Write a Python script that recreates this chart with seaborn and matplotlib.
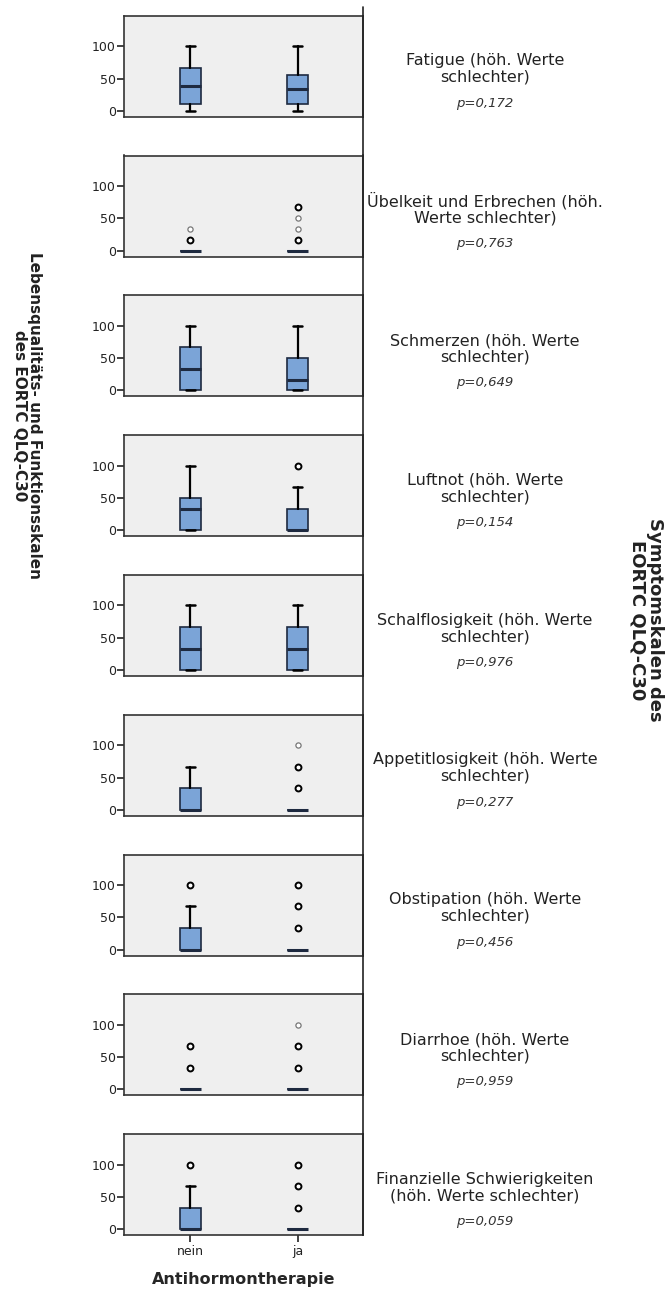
import matplotlib
matplotlib.use("Agg")
import matplotlib.pyplot as plt
from matplotlib.lines import Line2D
import seaborn as sns

# scale names and p values (nein vs ja)
labels = ['Fatigue (höh. Werte\nschlechter)',
          'Übelkeit und Erbrechen (höh.\nWerte schlechter)',
          'Schmerzen (höh. Werte\nschlechter)',
          'Luftnot (höh. Werte\nschlechter)',
          'Schalflosigkeit (höh. Werte\nschlechter)',
          'Appetitlosigkeit (höh. Werte\nschlechter)',
          'Obstipation (höh. Werte\nschlechter)',
          'Diarrhoe (höh. Werte\nschlechter)',
          'Finanzielle Schwierigkeiten\n(höh. Werte schlechter)']
pvals = ['p=0,172', 'p=0,763', 'p=0,649', 'p=0,154', 'p=0,976',
         'p=0,277', 'p=0,456', 'p=0,959', 'p=0,059']
groups = ['nein', 'ja']

# box statistics per scale, [nein, ja]
q1 = [[11.1, 11.1], [0, 0], [0, 0], [0, 0], [0, 0], [0, 0], [0, 0], [0, 0], [0, 0]]
med = [[38.9, 33.3], [0, 0], [33.3, 16.7], [33.3, 0], [33.3, 33.3], [0, 0], [0, 0], [0, 0], [0, 0]]
q3 = [[66.7, 55.6], [0, 0], [66.7, 50], [50, 33.3], [66.7, 66.7], [33.3, 0], [33.3, 0], [0, 0], [33.3, 0]]
whislo = [[0, 0]] * 9
whishi = [[100, 100], [0, 0], [100, 100], [100, 66.7], [100, 100], [66.7, 0], [66.7, 0], [0, 0], [66.7, 0]]

# outliers (dark = several cases, faint = single case)
out_dark = [[[], []], [[16.7], [16.7, 66.7]], [[], []], [[], [100]], [[], []],
            [[], [33.3, 66.7]], [[100], [33.3, 66.7, 100]], [[33.3, 66.7], [33.3, 66.7]],
            [[100], [33.3, 66.7, 100]]]
out_faint = [[[], []], [[33.3], [33.3, 50]], [[], []], [[], []], [[], []],
             [[], [100]], [[], []], [[], [100]], [[], []]]

sns.set_style('white')
plt.rcParams['font.family'] = ['DejaVu Sans']

W, H = 665, 1290
fig = plt.figure(figsize=(W / 100, H / 100), dpi=100)

box_col = '#7BA4D7'
edge_col = '#1E2A40'
ax_left, ax_w = 124, 239
top0, step, ph = 15.7, 139.8, 101

for i in range(9):
    top = top0 + step * i
    ax = fig.add_axes([ax_left / W, 1 - (top + ph) / H, ax_w / W, ph / H])
    ax.set_facecolor('#EFEFEF')

    stats = []
    for g in range(2):
        stats.append(dict(q1=q1[i][g], med=med[i][g], q3=q3[i][g],
                          whislo=whislo[i][g], whishi=whishi[i][g], fliers=[]))
    ax.bxp(stats, positions=[0, 1], widths=0.2, showfliers=False,
           patch_artist=True, capwidths=0.085,
           boxprops=dict(facecolor=box_col, edgecolor=edge_col, linewidth=1.2),
           medianprops=dict(color=edge_col, linewidth=2.2),
           whiskerprops=dict(color='black', linewidth=1.6),
           capprops=dict(color='black', linewidth=1.8))

    for g in range(2):
        if out_dark[i][g]:
            ax.scatter([g] * len(out_dark[i][g]), out_dark[i][g], s=18,
                       facecolor='white', edgecolor='black', linewidth=1.4, zorder=4)
        if out_faint[i][g]:
            ax.scatter([g] * len(out_faint[i][g]), out_faint[i][g], s=14,
                       facecolor='white', edgecolor='#777777', linewidth=0.9, zorder=4)

    ax.set_xlim(-0.62, 1.61)
    ax.set_ylim(-9, 147)
    ax.set_yticks([0, 50, 100])
    ax.set_yticklabels(['0', '50', '100'])
    ax.tick_params(axis='y', left=True, length=5, width=1.2, color='#222222',
                   labelsize=9, labelcolor='#222222', pad=1)
    if i == 8:
        ax.set_xticks([0, 1])
        ax.set_xticklabels(groups)
        ax.tick_params(axis='x', bottom=True, length=5, width=1.2, color='#222222',
                       labelsize=9, labelcolor='#222222', pad=2)
        ax.set_xlabel('Antihormontherapie', fontsize=11.5, fontweight='bold', labelpad=10)
    else:
        ax.set_xticks([])
    for s in ax.spines.values():
        s.set_color('#333333')
        s.set_linewidth(1.2)

    cy = top + ph / 2
    fig.text(485 / W, 1 - (cy + 3) / H, labels[i], ha='center', va='center',
             fontsize=11.5, color='#222222', linespacing=1.12)
    fig.text(485 / W, 1 - (cy + 37) / H, pvals[i], ha='center', va='center',
             fontsize=9.5, style='italic', color='#333333')

# long vertical line on the right edge of the panels
fig.add_artist(Line2D([363 / W, 363 / W], [1 - 7 / H, 1 - (top0 + step * 8 + ph) / H],
                      color='#222222', linewidth=1.2))

fig.text(27 / W, 1 - 416 / H, 'Lebensqualitäts- und Funktionsskalen\ndes EORTC QLQ-C30',
         rotation=-90, ha='center', va='center', fontsize=11, fontweight='bold',
         color='#222222', linespacing=0.95)
fig.text(646 / W, 1 - 620 / H, 'Symptomskalen des\nEORTC QLQ-C30',
         rotation=-90, ha='center', va='center', fontsize=13, fontweight='bold',
         color='#222222', linespacing=0.95)

fig.savefig('out.png', dpi=100, facecolor='white')
